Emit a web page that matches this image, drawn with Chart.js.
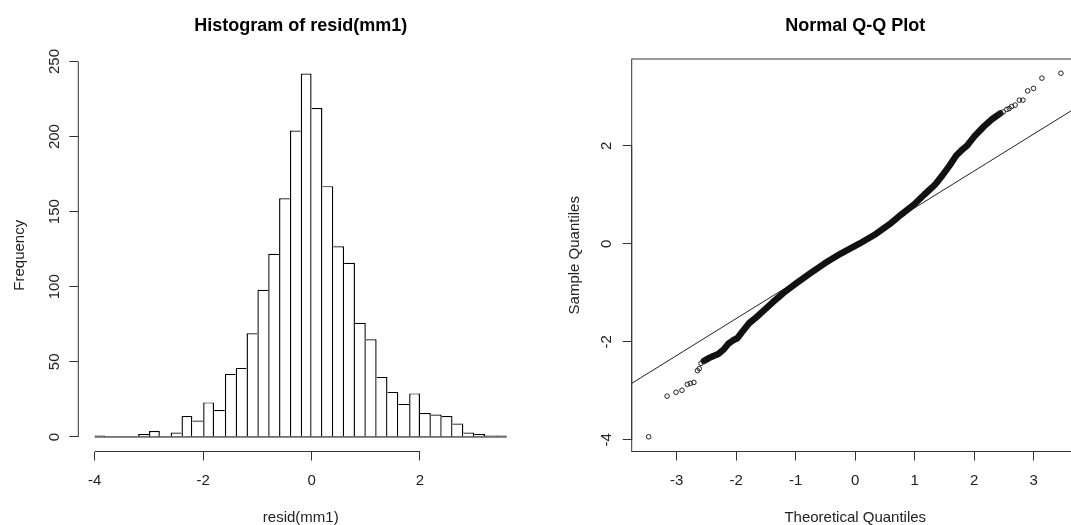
<!DOCTYPE html>
<html>
<head>
<meta charset="utf-8">
<script src="https://cdn.jsdelivr.net/npm/chart.js@4.4.0/dist/chart.umd.min.js"></script>
<style>
  body { margin: 0; background: #fff; overflow: hidden; width: 1071px; height: 525px; position: relative; }
  canvas { position: absolute; top: 0; }
  #hist { left: 0; }
  #qq { left: 540px; }
</style>
</head>
<body>
<canvas id="hist" width="540" height="525"></canvas>
<canvas id="qq" width="545" height="525"></canvas>
<script>
// histogram of resid(mm1): bins of width 0.2 from -4 to 3.6
var binMids = [-3.9, -3.7, -3.5, -3.3, -3.1, -2.9, -2.7, -2.5, -2.3, -2.1, -1.9, -1.7, -1.5, -1.3, -1.1, -0.9, -0.7, -0.5, -0.3, -0.1,
               0.1, 0.3, 0.5, 0.7, 0.9, 1.1, 1.3, 1.5, 1.7, 1.9, 2.1, 2.3, 2.5, 2.7, 2.9, 3.1, 3.3, 3.5];
var binCounts = [1, 0, 0, 0, 2, 4, 0, 3, 14, 11, 23, 18, 42, 46, 69, 98, 122, 159, 204, 242,
                 219, 167, 127, 116, 76, 65, 40, 30, 22, 29, 16, 15, 14, 9, 3, 2, 1, 1];
var histRange = [-4, 3.6];
var histXLim = [-4.304, 3.904];
var histYLim = [-9.68, 251.68];

// normal Q-Q plot: sparse tail points
var lowTailX = [-3.47, -3.16, -3.01, -2.91, -2.82, -2.77, -2.71, -2.65, -2.62, -2.59, -2.55];
var lowTailY = [-3.94, -3.11, -3.03, -2.99, -2.87, -2.85, -2.83, -2.59, -2.55, -2.44, -2.40];
var highTailX = [2.44, 2.49, 2.55, 2.59, 2.63, 2.69, 2.76, 2.82, 2.90, 3.00, 3.14, 3.46];
var highTailY = [2.66, 2.69, 2.74, 2.76, 2.80, 2.83, 2.93, 2.93, 3.12, 3.17, 3.38, 3.48];
// dense middle of the sample, where the circles merge into one band
var bandX = [-2.54, -2.45, -2.38, -2.30, -2.21, -2.13, -2.05, -1.98, -1.90, -1.78, -1.66, -1.57, -1.39, -1.20, -0.98, -0.75, -0.51, -0.24,
             0.07, 0.35, 0.58, 0.78, 0.99, 1.16, 1.34, 1.47, 1.59, 1.70, 1.80, 1.88, 2.01, 2.17, 2.30, 2.44];
var bandY = [-2.39, -2.33, -2.29, -2.25, -2.16, -2.04, -1.97, -1.93, -1.80, -1.62, -1.50, -1.40, -1.20, -1.00, -0.80, -0.60, -0.40, -0.20,
             0.00, 0.20, 0.40, 0.60, 0.80, 1.00, 1.20, 1.40, 1.60, 1.80, 1.92, 2.00, 2.20, 2.40, 2.54, 2.66];
var qqLineX = [-3.755, 3.76];
var qqLineY = [-2.85, 2.81];
var qqXLim = [-3.755, 3.76];
var qqYLim = [-4.24, 3.77];

var FONT = '"Liberation Sans", Arial, Helvetica, sans-serif';
var TEXT = '#222';
var AXIS = '#333';

function pts(xs, ys) {
  return xs.map(function (x, i) { return { x: x, y: ys[i] }; });
}

// R-style axes: axis line only between the outer ticks, vertical y labels, optional box
var rAxes = {
  id: 'rAxes',
  afterDraw: function (chart, args, opts) {
    var ctx = chart.ctx, a = chart.chartArea, xs = chart.scales.x, ys = chart.scales.y;
    ctx.save();
    ctx.strokeStyle = AXIS;
    ctx.lineWidth = 1;
    ctx.beginPath();
    ctx.moveTo(xs.getPixelForValue(xs.ticks[0].value), a.bottom);
    ctx.lineTo(xs.getPixelForValue(xs.ticks[xs.ticks.length - 1].value), a.bottom);
    ctx.moveTo(a.left, ys.getPixelForValue(ys.ticks[0].value));
    ctx.lineTo(a.left, ys.getPixelForValue(ys.ticks[ys.ticks.length - 1].value));
    ctx.stroke();
    if (opts.box) {
      ctx.strokeRect(a.left, a.top, a.right - a.left, a.bottom - a.top);
    }
    ctx.fillStyle = TEXT;
    ctx.font = '15px ' + FONT;
    ctx.textAlign = 'center';
    ctx.textBaseline = 'middle';
    ys.ticks.forEach(function (t) {
      ctx.save();
      ctx.translate(a.left - opts.labelGap, ys.getPixelForValue(t.value));
      ctx.rotate(-Math.PI / 2);
      ctx.fillText(String(t.value), 0, 0);
      ctx.restore();
    });
    ctx.restore();
  }
};

function axisOpts(lim, step, fit, title, titlePad, showLabels) {
  return {
    type: 'linear',
    min: lim[0],
    max: lim[1],
    offset: false,
    afterFit: fit,
    border: { display: false },
    grid: { offset: false, drawOnChartArea: false, drawTicks: true, tickLength: 9, tickColor: AXIS, lineWidth: 1 },
    ticks: { display: showLabels, stepSize: step, includeBounds: false, padding: 11, color: TEXT, font: { family: FONT, size: 15 } },
    title: { display: true, text: title, color: TEXT, font: { family: FONT, size: 15, lineHeight: showLabels ? 0.9 : 1.2 }, padding: titlePad }
  };
}

function mainTitle(text) {
  return {
    display: true, text: text, color: '#000', fullSize: false,
    font: { family: FONT, size: 18, weight: 'bold' },
    padding: { top: 15, bottom: 22.4 }
  };
}

new Chart(document.getElementById('hist'), {
  type: 'bar',
  data: {
    datasets: [
      {
        type: 'line',
        data: pts(histRange, [0, 0]),
        borderColor: '#000',
        borderWidth: 1,
        pointRadius: 0,
        order: 0
      },
      {
        data: pts(binMids, binCounts),
        backgroundColor: '#fff',
        borderColor: '#000',
        borderSkipped: false,
        inflateAmount: 0,
        barPercentage: 1,
        categoryPercentage: 1,
        order: 1,
        // shared edges are drawn once, by the taller neighbour
        borderWidth: function (c) {
          var i = c.dataIndex, n = binCounts;
          if (i === undefined || !n[i]) return 0;
          return {
            top: 1.2,
            bottom: 0,
            left: (i === 0 || n[i] >= n[i - 1]) ? 1.4 : 0,
            right: (i === n.length - 1 || n[i] > n[i + 1]) ? 1.4 : 0
          };
        }
      }
    ]
  },
  options: {
    responsive: false,
    animation: false,
    devicePixelRatio: 1,
    layout: { padding: { left: 0, right: 16.8, top: 0, bottom: 0 } },
    plugins: {
      legend: { display: false },
      tooltip: { enabled: false },
      title: mainTitle('Histogram of resid(mm1)'),
      rAxes: { box: false, labelGap: 23 }
    },
    scales: {
      x: axisOpts(histXLim, 2, function (s) { s.height = 73.5; }, 'resid(mm1)', { top: 0, bottom: 0 }, true),
      y: axisOpts(histYLim, 50, function (s) { s.width = 78.3; }, 'Frequency', { top: 10.8, bottom: 0 }, false)
    }
  },
  plugins: [rAxes]
});

new Chart(document.getElementById('qq'), {
  type: 'scatter',
  data: {
    datasets: [
      {
        data: pts(lowTailX, lowTailY).concat(pts(highTailX, highTailY)),
        pointStyle: 'circle',
        pointRadius: 2.3,
        pointBorderWidth: 1,
        pointBorderColor: '#222',
        pointBackgroundColor: 'rgba(0,0,0,0)'
      },
      {
        data: pts(bandX, bandY),
        showLine: true,
        borderColor: '#111',
        borderWidth: 6.5,
        borderJoinStyle: 'round',
        borderCapStyle: 'round',
        pointRadius: 0
      },
      {
        data: pts(qqLineX, qqLineY),
        showLine: true,
        borderColor: '#222',
        borderWidth: 1,
        pointRadius: 0
      }
    ]
  },
  options: {
    responsive: false,
    animation: false,
    devicePixelRatio: 1,
    layout: { padding: { left: 0, right: 6.2, top: 0, bottom: 0 } },
    plugins: {
      legend: { display: false },
      tooltip: { enabled: false },
      title: mainTitle('Normal Q-Q Plot'),
      rAxes: { box: true, labelGap: 25 }
    },
    scales: {
      x: axisOpts(qqXLim, 1, function (s) { s.height = 73.5; }, 'Theoretical Quantiles', { top: 0, bottom: 0 }, true),
      y: axisOpts(qqYLim, 2, function (s) { s.width = 91.7; }, 'Sample Quantiles', { top: 26.3, bottom: 0 }, false)
    }
  },
  plugins: [rAxes]
});
</script>
</body>
</html>
